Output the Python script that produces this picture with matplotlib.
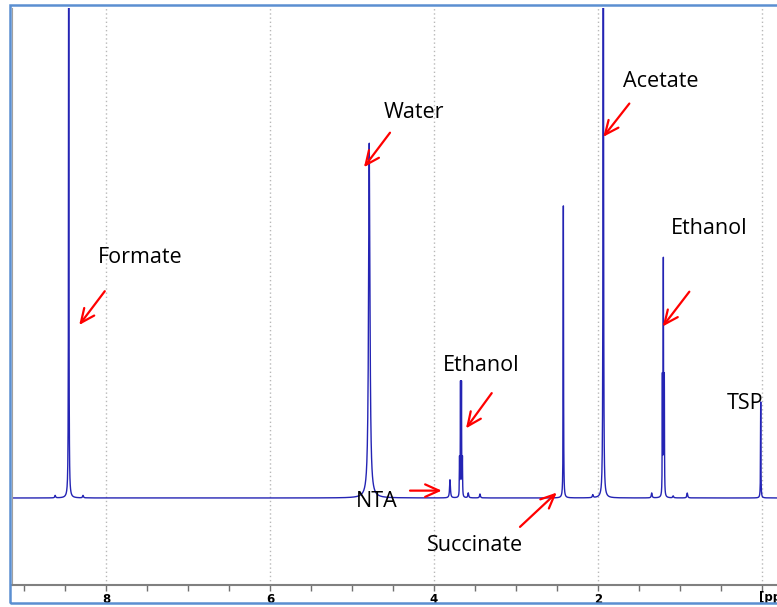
import numpy as np
import matplotlib as mpl
mpl.use("Agg")
import matplotlib.pyplot as plt
from matplotlib.patches import Rectangle

mpl.rc('font', family='Open Sans', size=15.5)

# peak list: centre (ppm), height (relative), half width (ppm)
singlet_ppm = [8.455, 4.788, 3.803, 2.420, 1.933, 0.012]
singlet_h = [1.50, 0.724, 0.037, 0.596, 2.50, 0.196]
singlet_w = [0.0025, 0.010, 0.006, 0.0025, 0.0025, 0.0025]

# ethanol multiplets (centre, tallest line height, coupling)
quartet_ppm = 3.669
quartet_h = 0.228
triplet_ppm = 1.200
triplet_h = 0.475
j_ppm = 0.0117

# small baseline features
minor_ppm = [8.62, 8.28, 3.58, 3.437, 2.06, 1.342, 1.08, 0.908]
minor_h = [0.005, 0.005, 0.010, 0.008, 0.006, 0.010, 0.004, 0.010]

labels = ['Formate', 'Water', 'Acetate', 'Ethanol', 'Ethanol', 'NTA', 'Succinate', 'TSP']
label_xy = [(7.584, 0.490), (4.243, 0.786), (1.229, 0.849), (0.643, 0.551),
            (3.425, 0.271), (4.694, -0.008), (3.498, -0.098), (0.204, 0.192)]
arrow_tail = [(8.015, 0.422), (4.535, 0.7455), (1.615, 0.805), (0.883, 0.421),
              (3.294, 0.214), (4.291, 0.015), (2.949, -0.059)]
arrow_head = [(8.327, 0.353), (4.853, 0.675), (1.933, 0.737), (1.208, 0.350),
              (3.608, 0.142), (3.904, 0.015), (2.501, 0.011)]


def lorentz(x, x0, h, w):
    return h * w**2 / ((x - x0)**2 + w**2)


ppm = np.linspace(-0.5, 9.5, 60001)
spec = np.zeros_like(ppm)
for x0, h, w in zip(singlet_ppm, singlet_h, singlet_w):
    spec += lorentz(ppm, x0, h, w)
for x0, h in zip(minor_ppm, minor_h):
    spec += lorentz(ppm, x0, h, 0.006)
for k, r in enumerate([1, 3, 3, 1]):
    spec += lorentz(ppm, quartet_ppm + (k - 1.5) * j_ppm, quartet_h * r / 3.0, 0.0022)
for k, r in enumerate([1, 2, 1]):
    spec += lorentz(ppm, triplet_ppm + (k - 1) * j_ppm, triplet_h * r / 2.0, 0.0022)

fig = plt.figure(figsize=(7.77, 6.07), dpi=100)
ax = fig.add_axes([12/777, 22/607, 778.4/777, 577/607])

for xg in [8, 6, 4, 2, 0]:
    ax.axvline(xg, color='#b8b8b8', ls=(0, (1, 2)), lw=1.0, zorder=0)

ax.plot(ppm, spec, color='#2424b4', lw=1.0)

ax.set_xlim(9.147, -0.35)
ax.set_ylim(-0.1776, 1.0)
ax.set_yticks([])

ax.set_xticks([8, 6, 4, 2, 0])
ax.set_xticklabels(['8', '6', '4', '2', ''])
ax.set_xticks(np.arange(0, 9.01, 0.5), minor=True)
ax.tick_params(axis='x', which='both', direction='out', length=4.5, width=1,
               color='#707070', pad=1.0)
for lab in ax.get_xticklabels():
    lab.set_fontfamily('DejaVu Sans')
    lab.set_fontweight('bold')
    lab.set_fontsize(8.5)
# unit label sits on the tick row, starting at 0 ppm
ax.text(0.03, -0.1776 - 6.0/490, '[ppm', ha='left', va='top',
        fontsize=8.5, fontweight='bold', family='DejaVu Sans', clip_on=False)

for s in ['top', 'right']:
    ax.spines[s].set_visible(False)
ax.spines['bottom'].set_color('#808080')
ax.spines['bottom'].set_linewidth(1.5)
ax.spines['left'].set_color('#a0a0a0')
ax.spines['left'].set_linewidth(0.8)

for txt, (tx, ty) in zip(labels, label_xy):
    ax.text(tx, ty, txt, ha='center', va='center', color='black')

for (x0, y0), (x1, y1) in zip(arrow_tail, arrow_head):
    ax.annotate('', xy=(x1, y1), xytext=(x0, y0),
                arrowprops=dict(arrowstyle='->,head_length=1.0,head_width=0.45',
                                mutation_scale=10, color='red', lw=1.6,
                                shrinkA=0, shrinkB=0))

fig.patches.append(Rectangle((9.5/777, 4.5/607), 2.0, 598/607, transform=fig.transFigure,
                             fill=False, edgecolor='#5b8fd1', lw=1.8, zorder=10))

plt.savefig('out.png', format='png', dpi=100)
